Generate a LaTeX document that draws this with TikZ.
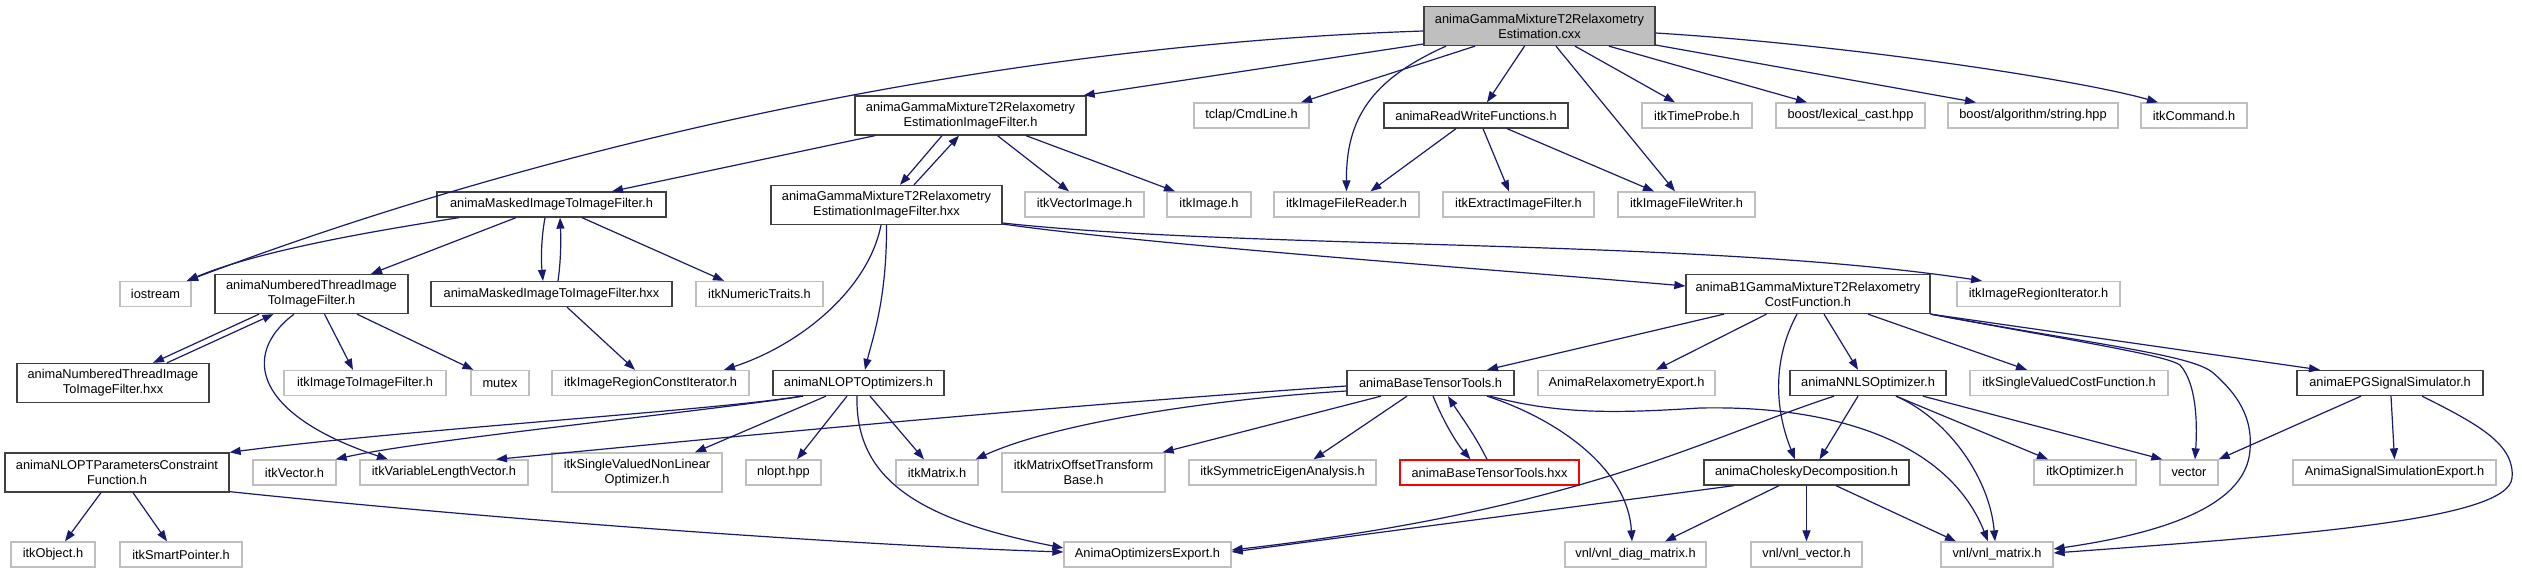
\documentclass[tikz,border=0pt]{standalone}
\usepackage{fontspec}
\setmainfont{Liberation Sans}
\usetikzlibrary{arrows.meta}
\definecolor{edgec}{HTML}{191970}
\definecolor{extc}{HTML}{BFBFBF}
\definecolor{docc}{HTML}{404040}
\definecolor{redc}{HTML}{FF0000}
\newcommand\gfont{\fontsize{12.8}{15}\selectfont}
\begin{document}
\begin{tikzpicture}[x=1pt,y=-1pt,
  box/.style={rectangle, inner sep=0pt, align=center, font=\gfont, line width=1.3pt},
  doc/.style={box, draw=docc},
  ext/.style={box, draw=extc},
  redbox/.style={box, draw=redc},
  rootbox/.style={box, draw=docc, fill=extc},
  one/.style={minimum height=25pt},
  two/.style={minimum height=39pt},
  edge/.style={draw=edgec, line width=1.2pt, -{Triangle[length=11pt,width=8pt]}}]
\fill[white] (0,0) rectangle (2522,573);
\useasboundingbox (0,0) rectangle (2522,573);
% row 0
\node[rootbox, two, minimum width=231pt] (root) at (1539.5,26) {animaGammaMixtureT2Relaxometry\\Estimation.cxx};
% row 1
\node[doc, two, minimum width=231pt] (ifh) at (970.5,115.5) {animaGammaMixtureT2Relaxometry\\EstimationImageFilter.h};
\node[ext, one, minimum width=115pt] (tclap) at (1251.5,115.5) {tclap/CmdLine.h};
\node[doc, one, minimum width=184pt] (rw) at (1476,115.5) {animaReadWriteFunctions.h};
\node[ext, one, minimum width=110pt] (timeprobe) at (1697,115.5) {itkTimeProbe.h};
\node[ext, one, minimum width=149pt] (lexcast) at (1850.5,115.5) {boost/lexical\_cast.hpp};
\node[ext, one, minimum width=170pt] (boostalg) at (2033,115.5) {boost/algorithm/string.hpp};
\node[ext, one, minimum width=106pt] (cmd) at (2194,115.5) {itkCommand.h};
% row 2
\node[doc, one, minimum width=229pt] (maskh) at (551.5,204.5) {animaMaskedImageToImageFilter.h};
\node[doc, two, minimum width=231pt] (ifhxx) at (886.5,205) {animaGammaMixtureT2Relaxometry\\EstimationImageFilter.hxx};
\node[ext, one, minimum width=119pt] (vecimg) at (1084.5,204.5) {itkVectorImage.h};
\node[ext, one, minimum width=84pt] (itkimage) at (1209,204.5) {itkImage.h};
\node[ext, one, minimum width=145pt] (reader) at (1346.5,204.5) {itkImageFileReader.h};
\node[ext, one, minimum width=151pt] (extract) at (1518.5,204.5) {itkExtractImageFilter.h};
\node[ext, one, minimum width=137pt] (writer) at (1686.5,204.5) {itkImageFileWriter.h};
% row 3
\node[ext, one, minimum width=71pt] (iostream) at (155.5,294) {iostream};
\node[doc, two, minimum width=193pt] (nth) at (311.5,294) {animaNumberedThreadImage\\ToImageFilter.h};
\node[doc, one, minimum width=241pt] (maskhxx) at (551.5,294) {animaMaskedImageToImageFilter.hxx};
\node[ext, one, minimum width=127pt] (numtraits) at (759.5,294) {itkNumericTraits.h};
\node[doc, two, minimum width=244pt] (b1) at (1808,294) {animaB1GammaMixtureT2Relaxometry\\CostFunction.h};
\node[ext, one, minimum width=163pt] (regit) at (2038.5,294) {itkImageRegionIterator.h};
% row 4
\node[doc, two, minimum width=192pt] (nthxx) at (113,383) {animaNumberedThreadImage\\ToImageFilter.hxx};
\node[ext, one, minimum width=162pt] (i2i) at (365,383) {itkImageToImageFilter.h};
\node[ext, one, minimum width=58pt] (mutex) at (500,383) {mutex};
\node[ext, one, minimum width=197pt] (regcit) at (650.5,383) {itkImageRegionConstIterator.h};
\node[doc, one, minimum width=171pt] (nlopth) at (858.5,383) {animaNLOPTOptimizers.h};
\node[doc, one, minimum width=167pt] (btth) at (1430.5,383) {animaBaseTensorTools.h};
\node[ext, one, minimum width=177pt] (relaxexp) at (1626.5,383) {AnimaRelaxometryExport.h};
\node[doc, one, minimum width=156pt] (nnls) at (1868,383) {animaNNLSOptimizer.h};
\node[ext, one, minimum width=198pt] (svcf) at (2069,383) {itkSingleValuedCostFunction.h};
\node[doc, one, minimum width=186pt] (epg) at (2390,383) {animaEPGSignalSimulator.h};
% row 5
\node[doc, two, minimum width=224pt] (constr) at (117,472.5) {animaNLOPTParametersConstraint\\Function.h};
\node[ext, one, minimum width=83pt] (itkvec) at (294.5,472.5) {itkVector.h};
\node[ext, one, minimum width=168pt] (varlen) at (444,472.5) {itkVariableLengthVector.h};
\node[ext, two, minimum width=170pt] (svnlo) at (637,472.5) {itkSingleValuedNonLinear\\Optimizer.h};
\node[ext, one, minimum width=75pt] (nloptpp) at (783.5,472.5) {nlopt.hpp};
\node[ext, one, minimum width=82pt] (itkmat) at (937,472.5) {itkMatrix.h};
\node[ext, two, minimum width=163pt] (mot) at (1083.5,472.5) {itkMatrixOffsetTransform\\Base.h};
\node[ext, one, minimum width=187pt] (sea) at (1282.5,472.5) {itkSymmetricEigenAnalysis.h};
\node[redbox, one, minimum width=179pt] (btthxx) at (1489.5,472.5) {animaBaseTensorTools.hxx};
\node[doc, one, minimum width=205pt] (chol) at (1806.5,472.5) {animaCholeskyDecomposition.h};
\node[ext, one, minimum width=102pt] (itkopt) at (2085,472.5) {itkOptimizer.h};
\node[ext, one, minimum width=58pt] (vector) at (2189,472.5) {vector};
\node[ext, one, minimum width=203pt] (sigexp) at (2394.5,472.5) {AnimaSignalSimulationExport.h};
% row 6
\node[ext, one, minimum width=84pt] (itkobj) at (53,554.5) {itkObject.h};
\node[ext, one, minimum width=122pt] (smartptr) at (181,554.5) {itkSmartPointer.h};
\node[ext, one, minimum width=167pt] (optexp) at (1147.5,554.5) {AnimaOptimizersExport.h};
\node[ext, one, minimum width=141pt] (diag) at (1635.5,554.5) {vnl/vnl\_diag\_matrix.h};
\node[ext, one, minimum width=111pt] (vnlvec) at (1806.5,554.5) {vnl/vnl\_vector.h};
\node[ext, one, minimum width=112pt] (vnlmat) at (1997,554.5) {vnl/vnl\_matrix.h};
% edges from root
\draw[edge] ([yshift=-5pt]root.west) .. controls (1000,45) and (560,140) .. ([xshift=31.5pt]iostream.north);
\draw[edge] ([yshift=-18pt]root.west) -- ([xshift=-3pt]ifh.north east);
\draw[edge] ([xshift=-64.5pt]root.south) -- ([xshift=49.5pt]tclap.north);
\draw[edge] ([xshift=-93.5pt]root.south) .. controls (1370,80) and (1346,120) .. (reader.north);
\draw[edge] ([xshift=-15pt]root.south) -- ([xshift=11pt]rw.north);
\draw[edge] ([xshift=16.5pt]root.south) -- ([xshift=-11.5pt]writer.north);
\draw[edge] ([xshift=35.5pt]root.south) -- ([xshift=-22pt]timeprobe.north);
\draw[edge] ([xshift=69.5pt]root.south) -- ([xshift=-43.5pt]lexcast.north);
\draw[edge] ([yshift=-19pt]root.east) -- ([xshift=-57pt]boostalg.north);
\draw[edge] ([yshift=-7pt]root.east) .. controls (1850,45) and (2080,80) .. ([xshift=-36pt]cmd.north);
% ImageFilter.h
\draw[edge] ([xshift=-95.5pt]ifh.south) -- ([xshift=60.5pt]maskh.north);
\draw[edge] ([xshift=-28.5pt]ifh.south) -- ([xshift=13.5pt]ifhxx.north);
\draw[edge] ([xshift=27.5pt]ifhxx.north) -- ([xshift=-11.5pt]ifh.south);
\draw[edge] ([xshift=27pt]ifh.south) -- ([xshift=-15.5pt]vecimg.north);
\draw[edge] ([xshift=55.5pt]ifh.south) -- ([xshift=-34pt]itkimage.north);
% ImageFilter.hxx
\draw[edge] ([xshift=-5.5pt]ifhxx.south) .. controls (868,290) and (800,345) .. ([xshift=73.5pt]regcit.north);
\draw[edge] (ifhxx.south) .. controls (887,300) and (872,340) .. ([xshift=6.5pt]nlopth.north);
\draw[edge] ([yshift=-19pt]ifhxx.east) .. controls (1150,245) and (1500,270) .. ([yshift=8pt]b1.west);
\draw[edge] ([yshift=-18pt]ifhxx.east) .. controls (1250,250) and (1700,238) .. ([xshift=-56.5pt]regit.north);
% ReadWrite
\draw[edge] ([xshift=-20pt]rw.south) -- ([xshift=24pt]reader.north);
\draw[edge] ([xshift=7pt]rw.south) -- ([xshift=-9.5pt]extract.north);
\draw[edge] ([xshift=31pt]rw.south) -- ([xshift=-32.5pt]writer.north);
% Masked
\draw[edge] ([xshift=-92.5pt]maskh.south) .. controls (380,230) and (260,250) .. ([xshift=31.5pt]iostream.north);
\draw[edge] ([xshift=-35.5pt]maskh.south) -- ([xshift=59.5pt]nth.north);
\draw[edge] ([xshift=-6.5pt]maskh.south) .. controls (541,240) and (541,260) .. ([xshift=-8.5pt]maskhxx.north);
\draw[edge] ([xshift=6.5pt]maskhxx.north) .. controls (561,260) and (561,240) .. ([xshift=8.5pt]maskh.south);
\draw[edge] ([xshift=30.5pt]maskh.south) -- ([xshift=-35.5pt]numtraits.north);
\draw[edge] ([xshift=15.5pt]maskhxx.south) -- ([xshift=-15.5pt]regcit.north);
% NumberedThread
\draw[edge] ([xshift=-52.5pt]nth.south) -- ([xshift=40pt]nthxx.north);
\draw[edge] ([xshift=54pt]nthxx.north) -- ([xshift=-38pt]nth.south);
\draw[edge] ([xshift=13pt]nth.south) -- ([xshift=-12pt]i2i.north);
\draw[edge] ([xshift=45.5pt]nth.south) -- ([xshift=-26.5pt]mutex.north);
\draw[edge] ([xshift=-17.5pt]nth.south) .. controls (240,355) and (255,415) .. ([xshift=-56pt]varlen.north);
% NLOPT
\draw[edge] ([xshift=-57.5pt]nlopth.south) .. controls (720,410) and (400,430) .. (constr.north east);
\draw[edge] ([xshift=-55.5pt]nlopth.south) .. controls (700,412) and (420,440) .. ([xshift=-1pt]itkvec.north east);
\draw[edge] ([xshift=-32.5pt]nlopth.south) -- ([xshift=58pt]svnlo.north);
\draw[edge] ([xshift=-11.5pt]nlopth.south) -- ([xshift=13.5pt]nloptpp.north);
\draw[edge] ([xshift=11.5pt]nlopth.south) -- ([xshift=-13pt]itkmat.north);
\draw[edge] ([xshift=-1.5pt]nlopth.south) .. controls (855,480) and (920,520) .. ([yshift=6.5pt]optexp.west);
% Constraint
\draw[edge] ([xshift=-16pt]constr.south) -- ([xshift=12pt]itkobj.north);
\draw[edge] ([xshift=16pt]constr.south) -- ([xshift=-14pt]smartptr.north);
\draw[edge] ([yshift=1pt]constr.south east) .. controls (500,520) and (850,545) .. ([yshift=2.5pt]optexp.west);
% B1
\draw[edge] ([xshift=-84pt]b1.south) -- ([xshift=56.5pt]btth.north);
\draw[edge] ([xshift=-41.5pt]b1.south) -- ([xshift=29.5pt]relaxexp.north);
\draw[edge] ([xshift=-11pt]b1.south) .. controls (1772,360) and (1775,410) .. ([xshift=-11.5pt]chol.north);
\draw[edge] ([xshift=16pt]b1.south) -- ([xshift=-10pt]nnls.north);
\draw[edge] ([xshift=60pt]b1.south) -- ([xshift=-42pt]svcf.north);
\draw[edge] (b1.south east) .. controls (2080,342) and (2165,355) .. (2180,365) .. controls (2198,385) and (2197,430) .. ([xshift=6pt]vector.north);
\draw[edge] (b1.south east) .. controls (2100,345) and (2190,355) .. (2212,372) .. controls (2245,400) and (2252,425) .. (2250,450) .. controls (2246,510) and (2150,535) .. ([yshift=5.5pt]vnlmat.east);
\draw[edge] (b1.south east) -- ([xshift=-70pt]epg.north);
% BaseTensorTools
\draw[edge] ([yshift=-3pt]btth.west) .. controls (1000,410) and (700,440) .. ([xshift=52pt]varlen.north);
\draw[edge] ([yshift=-8pt]btth.west) .. controls (1200,400) and (1050,425) .. ([xshift=-3pt]itkmat.north east);
\draw[edge] ([xshift=-49.5pt]btth.south) -- ([xshift=-3pt]mot.north east);
\draw[edge] ([xshift=-23.5pt]btth.south) -- ([xshift=31pt]sea.north);
\draw[edge] ([xshift=2.5pt]btth.south) .. controls (1445,425) and (1458,445) .. ([xshift=-19pt]btthxx.north);
\draw[edge] ([xshift=-2.5pt]btthxx.north) .. controls (1475,435) and (1460,415) .. ([xshift=17.5pt]btth.south);
\draw[edge] ([xshift=56.5pt]btth.south) .. controls (1560,420) and (1628,470) .. ([xshift=-3.5pt]diag.north);
\draw[edge] ([xshift=59.5pt]btth.south) .. controls (1560,415) and (1620,413) .. (1700,408) .. controls (1840,405) and (1950,445) .. ([xshift=-9pt]vnlmat.north);
% NNLS
\draw[edge] ([xshift=-34pt]nnls.south) .. controls (1700,440) and (1580,510) .. ([yshift=4.5pt]optexp.east);
\draw[edge] ([xshift=-10pt]nnls.south) -- ([xshift=13pt]chol.north);
\draw[edge] ([xshift=28pt]nnls.south) .. controls (1950,420) and (1990,480) .. ([xshift=-2pt]vnlmat.north);
\draw[edge] ([xshift=28pt]nnls.south) -- ([xshift=-37pt]itkopt.north);
\draw[edge] ([xshift=55pt]nnls.south) -- ([xshift=3pt]vector.north west);
% Cholesky
\draw[edge] ([xshift=-72.5pt]chol.south) -- ([yshift=2.5pt]optexp.east);
\draw[edge] ([xshift=-27.5pt]chol.south) -- ([xshift=29.5pt]diag.north);
\draw[edge] (chol.south) -- (vnlvec.north);
\draw[edge] ([xshift=29.5pt]chol.south) -- ([xshift=-41pt]vnlmat.north);
% EPG
\draw[edge] ([xshift=-29pt]epg.south) -- (vector.north east);
\draw[edge] ([xshift=1pt]epg.south) -- (sigexp.north);
\draw[edge] ([xshift=32pt]epg.south) .. controls (2480,425) and (2515,445) .. (2512,478) .. controls (2508,520) and (2300,535) .. ([yshift=1.5pt]vnlmat.east);
\end{tikzpicture}
\end{document}
